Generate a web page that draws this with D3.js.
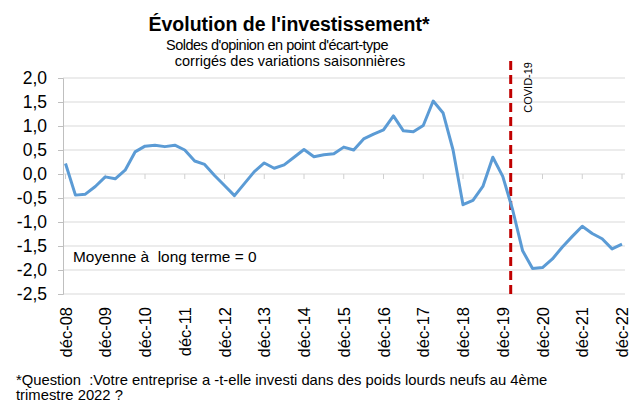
<!DOCTYPE html>
<html>
<head>
<meta charset="utf-8">
<script src="https://cdn.jsdelivr.net/npm/d3@7"></script>
<style>
    body { margin: 0; background: #fff; }
    svg { font-family: "Liberation Sans", Arial, sans-serif; }
</style>
</head>
<body>
<svg id="chart" width="630" height="403"></svg>
<script>
// Quarterly balance of opinion, déc-08 .. déc-22 (57 quarters)
const values = [
    0.22, -0.44, -0.42, -0.26, -0.06, -0.10, 0.08, 0.46,
    0.58, 0.60, 0.57, 0.60, 0.50, 0.27, 0.20, -0.03,
    -0.24, -0.45, -0.20, 0.05, 0.23, 0.12, 0.19, 0.35,
    0.51, 0.36, 0.40, 0.42, 0.56, 0.50, 0.73, 0.83,
    0.92, 1.21, 0.90, 0.88, 1.01, 1.52, 1.27, 0.50,
    -0.64, -0.55, -0.26, 0.35, -0.05, -0.75, -1.60, -1.97,
    -1.95, -1.77, -1.52, -1.30, -1.09, -1.24, -1.35, -1.56,
    -1.46
];
const yearLabels = ["déc-08", "déc-09", "déc-10", "déc-11", "déc-12", "déc-13", "déc-14",
    "déc-15", "déc-16", "déc-17", "déc-18", "déc-19", "déc-20", "déc-21", "déc-22"];
const yTicks = [2.0, 1.5, 1.0, 0.5, 0.0, -0.5, -1.0, -1.5, -2.0, -2.5];
const covidIndex = 44.8; // quarter position of the COVID-19 marker

const svg = d3.select("#chart");

const x = d3.scaleLinear().domain([0, values.length - 1]).range([65.5, 622]);
const y = d3.scaleLinear().domain([-2.5, 2]).range([294, 78]);
const left = 63, right = 625;
const fmt = d => d.toFixed(1).replace(".", ",");

// gridlines
svg.append("g")
    .selectAll("line")
    .data(yTicks)
    .join("line")
    .attr("x1", left).attr("x2", right)
    .attr("y1", d => y(d)).attr("y2", d => y(d))
    .attr("stroke", "#d9d9d9")
    .attr("stroke-width", 1);

// y axis
const yAxis = d3.axisLeft(y).tickValues(yTicks).tickFormat(fmt).tickSize(5).tickPadding(11);
svg.append("g")
    .attr("transform", `translate(${left},0)`)
    .call(yAxis)
    .call(g => g.select(".domain").attr("stroke", "#bfbfbf"))
    .call(g => g.selectAll(".tick line").attr("stroke", "#bfbfbf"))
    .call(g => g.selectAll("text")
        .attr("fill", "#000")
        .style("font-size", "17.5px")
        .style("font-family", "'Liberation Sans', Arial, sans-serif"));

// x axis sits on zero, ticks only
const yearIdx = yearLabels.map((_, i) => i * 4);
svg.append("g")
    .selectAll("line")
    .data(yearIdx)
    .join("line")
    .attr("x1", d => x(d)).attr("x2", d => x(d))
    .attr("y1", y(0)).attr("y2", y(0) + 5)
    .attr("stroke", "#d0d0d0");

// year labels at the bottom, rotated
svg.append("g")
    .selectAll("text")
    .data(yearLabels)
    .join("text")
    .attr("transform", (d, i) => `translate(${x(i * 4) + 6},${307}) rotate(-90)`)
    .attr("text-anchor", "end")
    .style("font-size", "16.5px")
    .text(d => d);

// COVID marker
svg.append("line")
    .attr("x1", x(covidIndex)).attr("x2", x(covidIndex))
    .attr("y1", 61).attr("y2", y(-2.5))
    .attr("stroke", "#c00000")
    .attr("stroke-width", 3)
    .attr("stroke-dasharray", "9,5");

svg.append("text")
    .attr("transform", `translate(${x(covidIndex) + 21},62) rotate(-90)`)
    .attr("text-anchor", "end")
    .style("font-size", "11px")
    .text("COVID-19");

// series
const line = d3.line()
    .x((d, i) => x(i))
    .y(d => y(d));

svg.append("path")
    .datum(values)
    .attr("fill", "none")
    .attr("stroke", "#5b9bd5")
    .attr("stroke-width", 3)
    .attr("stroke-linejoin", "round")
    .attr("d", line);

// titles
svg.append("text")
    .attr("x", 289).attr("y", 31)
    .attr("text-anchor", "middle")
    .style("font-size", "19.5px")
    .style("font-weight", "bold")
    .text("Évolution de l'investissement*");

svg.append("text")
    .attr("x", 277).attr("y", 50)
    .attr("text-anchor", "middle")
    .style("font-size", "14.5px")
    .style("letter-spacing", "-0.5px")
    .text("Soldes d'opinion en point d'écart-type");

svg.append("text")
    .attr("x", 290).attr("y", 66)
    .attr("text-anchor", "middle")
    .style("font-size", "14.5px")
    .text("corrigés des variations saisonnières");

svg.append("text")
    .attr("x", 73).attr("y", 262)
    .style("font-size", "15.4px")
    .style("white-space", "pre")
    .text("Moyenne à  long terme = 0");

// footnote
svg.append("text")
    .attr("x", 16).attr("y", 385)
    .style("font-size", "14.8px")
    .style("white-space", "pre")
    .text("*Question  :Votre entreprise a -t-elle investi dans des poids lourds neufs au 4ème");

svg.append("text")
    .attr("x", 16).attr("y", 400)
    .style("font-size", "14.8px")
    .text("trimestre 2022 ?");
</script>
</body>
</html>
